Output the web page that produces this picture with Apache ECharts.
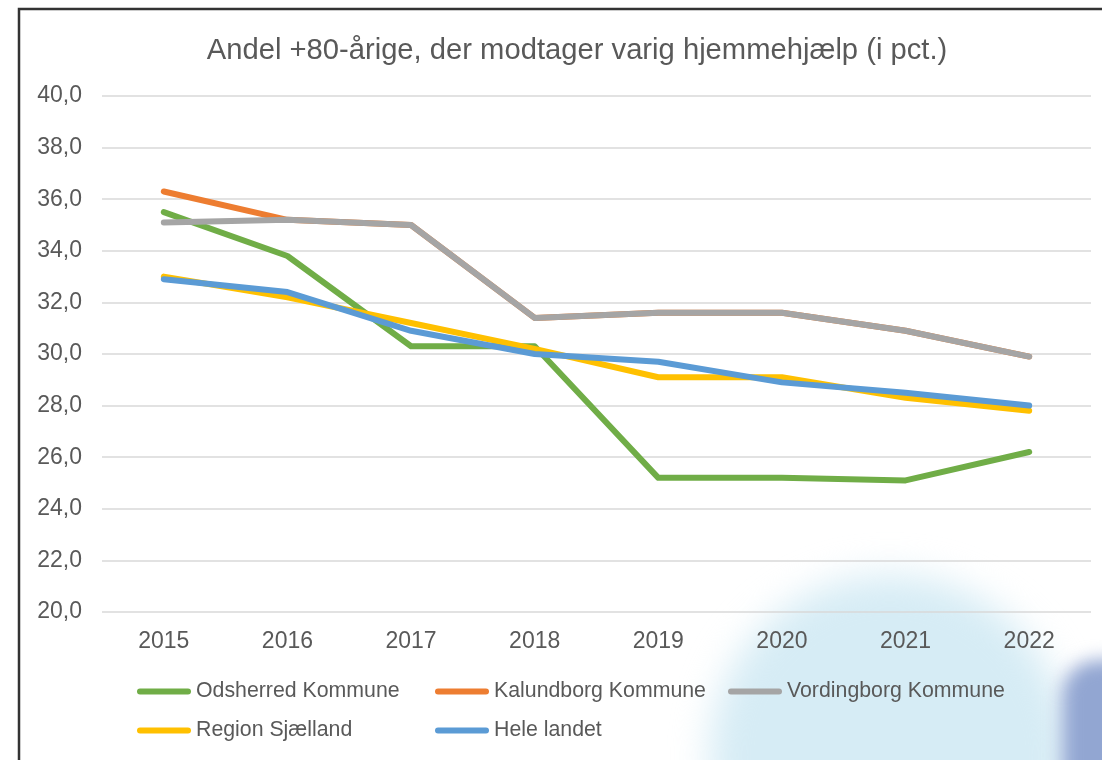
<!DOCTYPE html>
<html>
<head>
<meta charset="utf-8">
<script src="https://cdn.jsdelivr.net/npm/echarts@6/dist/echarts.min.js"></script>
<style>
  html, body { margin: 0; padding: 0; background: #ffffff; overflow: hidden; }
  #wrap { position: relative; width: 1102px; height: 760px; overflow: hidden; background: #ffffff; }
  #chart { position: absolute; left: 0; top: 0; width: 1102px; height: 760px; }
  .blob { position: absolute; }
  #disc { left: 710px; top: 575px; width: 360px; height: 360px; border-radius: 50%;
          background: #d6ecf5; filter: blur(18px); }
  #edge { left: 1062px; top: 660px; width: 140px; height: 200px; border-radius: 36px;
          background: #92a6d2; filter: blur(9px); }
</style>
</head>
<body>
<div id="wrap">
  <div class="blob" id="disc"></div>
  <div class="blob" id="edge"></div>
  <div id="chart"></div>
</div>
<script>
// Årstal på x-aksen
const years = ['2015', '2016', '2017', '2018', '2019', '2020', '2021', '2022'];

// Andel +80-årige med varig hjemmehjælp (pct.)
const odsherred   = [35.5, 33.8, 30.3, 30.3, 25.2, 25.2, 25.1, 26.2];
const kalundborg  = [36.3, 35.2, 35.0, 31.4, 31.6, 31.6, 30.9, 29.9];
const vordingborg = [35.1, 35.2, 35.0, 31.4, 31.6, 31.6, 30.9, 29.9];
const regionSj    = [33.0, 32.2, 31.2, 30.2, 29.1, 29.1, 28.3, 27.8];
const heleLandet  = [32.9, 32.4, 30.9, 30.0, 29.7, 28.9, 28.5, 28.0];

const seriesNames = ['Odsherred Kommune', 'Kalundborg Kommune', 'Vordingborg Kommune', 'Region Sjælland', 'Hele landet'];
const seriesData  = [odsherred, kalundborg, vordingborg, regionSj, heleLandet];
const colors      = ['#70AD47', '#ED7D31', '#A5A5A5', '#FFC000', '#5B9BD5'];

const FONT = '"Liberation Sans", Arial, sans-serif';
const TXT = '#595959';

const chart = echarts.init(document.getElementById('chart'), null, { renderer: 'canvas' });

// Legend placement: one legend block per entry, laid out in two rows
const legendSlots = [
  { left: 137, top: 681 },
  { left: 435, top: 681 },
  { left: 728, top: 681 },
  { left: 137, top: 720 },
  { left: 435, top: 720 }
];

const legends = seriesNames.map((name, i) => ({
  data: [name],
  left: legendSlots[i].left,
  top: legendSlots[i].top,
  padding: 0,
  icon: 'path://M3,0 L51,0 A3,3 0 0 1 51,6 L3,6 A3,3 0 0 1 3,0 Z',
  itemWidth: 54,
  itemHeight: 6,
  textStyle: { fontFamily: FONT, fontSize: 21.3, color: TXT, padding: [0, 0, 0, 0] },
  selectedMode: false
}));

const option = {
  backgroundColor: 'transparent',
  animation: false,
  color: colors,
  title: {
    text: 'Andel +80-årige, der modtager varig hjemmehjælp (i pct.)',
    left: 572,
    textAlign: 'center',
    top: 31,
    textStyle: { fontFamily: FONT, fontSize: 29.2, fontWeight: 'normal', color: TXT }
  },
  legend: legends,
  grid: { left: 102, right: 11, top: 96, bottom: 148 },
  xAxis: {
    type: 'category',
    data: years,
    boundaryGap: true,
    axisLine: { show: false },
    axisTick: { show: false },
    axisLabel: { fontFamily: FONT, fontSize: 23, color: TXT, margin: 18 }
  },
  yAxis: {
    type: 'value',
    min: 20,
    max: 40,
    interval: 2,
    axisLine: { show: false },
    axisTick: { show: false },
    axisLabel: {
      fontFamily: FONT, fontSize: 23, color: TXT, margin: 20,
      formatter: v => v.toFixed(1).replace('.', ',')
    },
    splitLine: { lineStyle: { color: '#d9d9d9', width: 1.5 } }
  },
  graphic: [
    // frame lines along the top and left
    {
      type: 'polyline', z: 100, silent: true,
      shape: { points: [[19, 760], [19, 9], [1102, 9]] },
      style: { stroke: '#333333', lineWidth: 2.5, fill: null }
    }
  ],
  series: seriesNames.map((name, i) => ({
    name: name,
    type: 'line',
    data: seriesData[i],
    symbol: 'none',
    smooth: false,
    lineStyle: { width: 6, color: colors[i], cap: 'round', join: 'round' },
    itemStyle: { color: colors[i] },
    z: 2 + i
  }))
};

chart.setOption(option);
</script>
</body>
</html>
